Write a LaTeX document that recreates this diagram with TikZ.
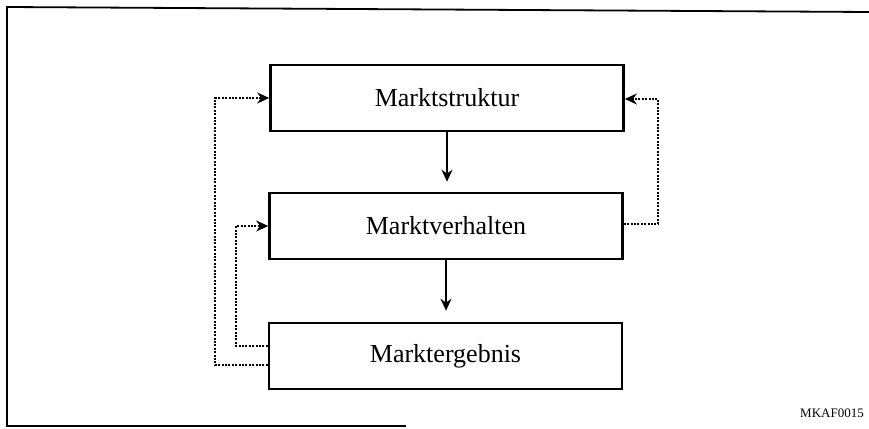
\documentclass[tikz,border=0pt]{standalone}
\usepackage{fontspec}
\setmainfont{Liberation Serif}
\usetikzlibrary{arrows.meta}
\begin{document}
\begin{tikzpicture}[x=1pt,y=-1pt,
  stage/.style={draw,line width=2.6pt,minimum width=353pt,minimum height=66pt,
    inner sep=0pt,font=\fontsize{26}{30}\selectfont},
  flow/.style={line width=2pt,-{Stealth[length=12pt,width=11pt]}},
  feedback/.style={line width=2.3pt,dash pattern=on 2pt off 1.4pt,
    -{Stealth[length=12pt,width=11pt]}},
  frameline/.style={line width=1.8pt,line cap=rect}]
  \useasboundingbox (0,0) rectangle (869,428);

  % outer frame (open at the right and lower right)
  \draw[frameline] (869,12) -- (7,7) -- (7,426) -- (405,426);

  % the three stages
  \node[stage] (s) at (447,98)  {Marktstruktur};
  \node[stage] (v) at (446,226) {Marktverhalten};
  \node[stage] (e) at (445.5,356) {Marktergebnis};

  % main flow
  \draw[flow] (s.south) -- ([yshift=10pt]s.south |- v.north);
  \draw[flow] (v.south) -- ([yshift=11pt]v.south |- e.north);

  % feedback loops
  \coordinate (eo) at ([yshift=-9pt]e.west);
  \coordinate (ei) at ([yshift=10pt]e.west);
  \coordinate (vr) at ([yshift=2pt]v.east);
  \draw[feedback] (eo) -| (215,98) -- (s.west);
  \draw[feedback] (ei) -| (236,226) -- (v.west);
  \draw[feedback] (vr) -| (658,99) -- ([yshift=-1pt]s.east);

  % reference code
  \node[anchor=base east,font=\fontsize{13}{15}\selectfont,inner sep=0pt]
    (code) at (864,417) {MKAF0015};
\end{tikzpicture}
\end{document}
